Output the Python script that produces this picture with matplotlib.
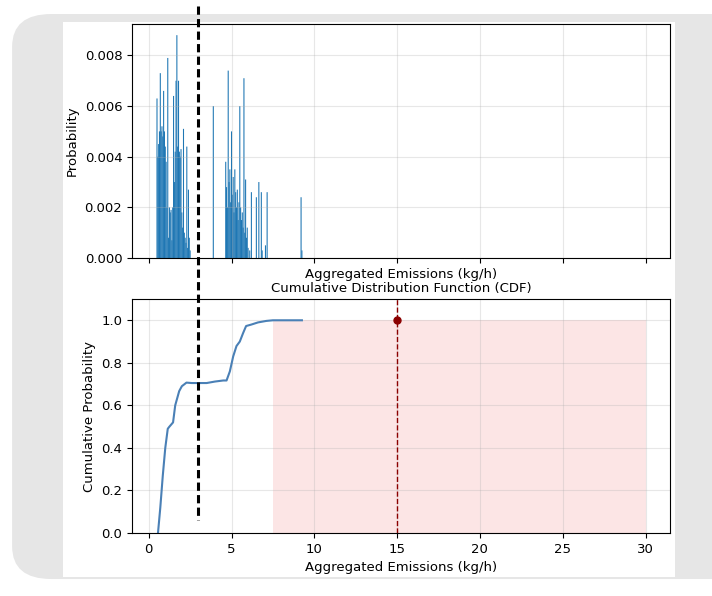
import matplotlib
matplotlib.use("Agg")
import matplotlib.pyplot as plt
from matplotlib.patches import FancyBboxPatch, Rectangle
from matplotlib.lines import Line2D
import matplotlib.transforms as mtransforms

# --- histogram (probability per emission value) ---
hist_x = [0.50, 0.55, 0.60, 0.65, 0.70, 0.75, 0.80, 0.85, 0.90, 0.95,
          1.00, 1.05, 1.10, 1.15, 1.20, 1.25, 1.30, 1.35, 1.40, 1.45,
          1.50, 1.55, 1.60, 1.65, 1.70, 1.75, 1.80, 1.85, 1.90, 1.95,
          2.00, 2.05, 2.10, 2.15, 2.20, 2.25, 2.30, 2.35, 2.40, 2.45, 2.50,
          3.90,
          4.65, 4.70, 4.75, 4.80, 4.85, 4.90, 4.95, 5.00, 5.05, 5.10,
          5.15, 5.20, 5.25, 5.30, 5.35, 5.40, 5.45, 5.50, 5.55, 5.60,
          5.65, 5.70, 5.75, 5.80, 5.85, 5.90, 5.95, 6.00, 6.10, 6.20,
          6.50, 6.65, 6.80, 6.85, 7.05, 7.15,
          9.20, 9.25]
hist_p = [0.0063, 0.0040, 0.0045, 0.0050, 0.0073, 0.0050, 0.0052, 0.0048, 0.0066, 0.0050,
          0.0044, 0.0038, 0.0020, 0.0079, 0.0008, 0.0020, 0.0018, 0.0019, 0.0007, 0.0020,
          0.0064, 0.0030, 0.0042, 0.0070, 0.0088, 0.0044, 0.0070, 0.0042, 0.0040, 0.0043,
          0.0018, 0.0012, 0.0051, 0.0010, 0.0008, 0.0006, 0.0044, 0.0004, 0.0027, 0.0008, 0.0003,
          0.0060,
          0.0038, 0.0028, 0.0020, 0.0074, 0.0030, 0.0035, 0.0022, 0.0050, 0.0025, 0.0032,
          0.0018, 0.0035, 0.0026, 0.0020, 0.0027, 0.0015, 0.0022, 0.0060, 0.0020, 0.0015,
          0.0018, 0.0012, 0.0071, 0.0010, 0.0031, 0.0008, 0.0012, 0.0004, 0.0003, 0.0026,
          0.0024, 0.0030, 0.0026, 0.0003, 0.0005, 0.0026,
          0.0024, 0.0003]

# --- CDF curve ---
cdf_x = [0.56, 0.7, 0.85, 1.0, 1.15, 1.25, 1.47, 1.6, 1.84, 2.0, 2.28, 2.6, 3.0, 3.5,
         4.0, 4.5, 4.7, 4.9, 5.1, 5.3, 5.5, 5.7, 5.88, 6.2, 6.6, 7.1, 7.5, 9.25]
cdf_p = [0.0, 0.12, 0.27, 0.40, 0.49, 0.50, 0.52, 0.60, 0.667, 0.69, 0.707, 0.705, 0.705, 0.705,
         0.712, 0.717, 0.717, 0.76, 0.83, 0.879, 0.90, 0.94, 0.973, 0.98, 0.99, 0.997, 1.0, 1.0]

# shaded range, threshold point and the marker line
shade_x = [7.5, 30]
threshold_x = 15
threshold_p = 1.0
marker_x = 3.0

plt.rcParams['font.family'] = ['DejaVu Sans']
plt.rcParams['font.size'] = 9.5

fig = plt.figure(figsize=(7.12, 5.96), dpi=100, facecolor='white')

# gray rounded frame + white panel
frame = FancyBboxPatch((0.017 + 0.045, 0.0185 + 0.055), 1.1, 0.968 - 0.11,
                       boxstyle="round,pad=0.045,rounding_size=0.055",
                       transform=fig.transFigure, facecolor='#e6e6e6',
                       edgecolor='none', zorder=-2)
fig.patches.append(frame)
panel = Rectangle((0.0885, 0.0319), 0.8596, 0.9312, transform=fig.transFigure,
                  facecolor='white', edgecolor='none', zorder=-1)
fig.patches.append(panel)

ax1 = fig.add_axes([0.1854, 0.5671, 0.7556, 0.3926])
ax2 = fig.add_axes([0.1854, 0.1057, 0.7556, 0.3926], sharex=ax1)

# top: probability histogram
bars = ax1.bar(hist_x, hist_p, width=0.065, color='tab:blue', lw=0)
for b in bars:
    b.set_snap(False)
ax1.set_ylabel('Probability')
ax1.set_xlabel('Aggregated Emissions (kg/h)')
ax1.tick_params(labelbottom=False)
ax1.grid(True, alpha=0.3)

# bottom: CDF
ax2.plot(cdf_x, cdf_p, color='#4a80b6', lw=1.5)
ax2.fill_between(shade_x, 0, 1, color='#f08080', alpha=0.2, lw=0)
ax2.axvline(threshold_x, color='darkred', ls='--', lw=1)
ax2.plot(threshold_x, threshold_p, 'o', color='darkred', ms=5)
ax2.set_ylim(0, 1.1)
ax2.set_title('Cumulative Distribution Function (CDF)', fontsize=9.5, pad=5)
ax2.set_xlabel('Aggregated Emissions (kg/h)')
ax2.set_ylabel('Cumulative Probability')
ax2.grid(True, alpha=0.3)

# black dashed marker drawn across both panels
trans = mtransforms.blended_transform_factory(ax2.transData, fig.transFigure)
fig.lines.append(Line2D([marker_x, marker_x], [0.99, 0.1275], transform=trans,
                        color='black', lw=2.2, ls=(0, (2.7, 1.4))))

fig.savefig('out.png', dpi=100, facecolor='white')
